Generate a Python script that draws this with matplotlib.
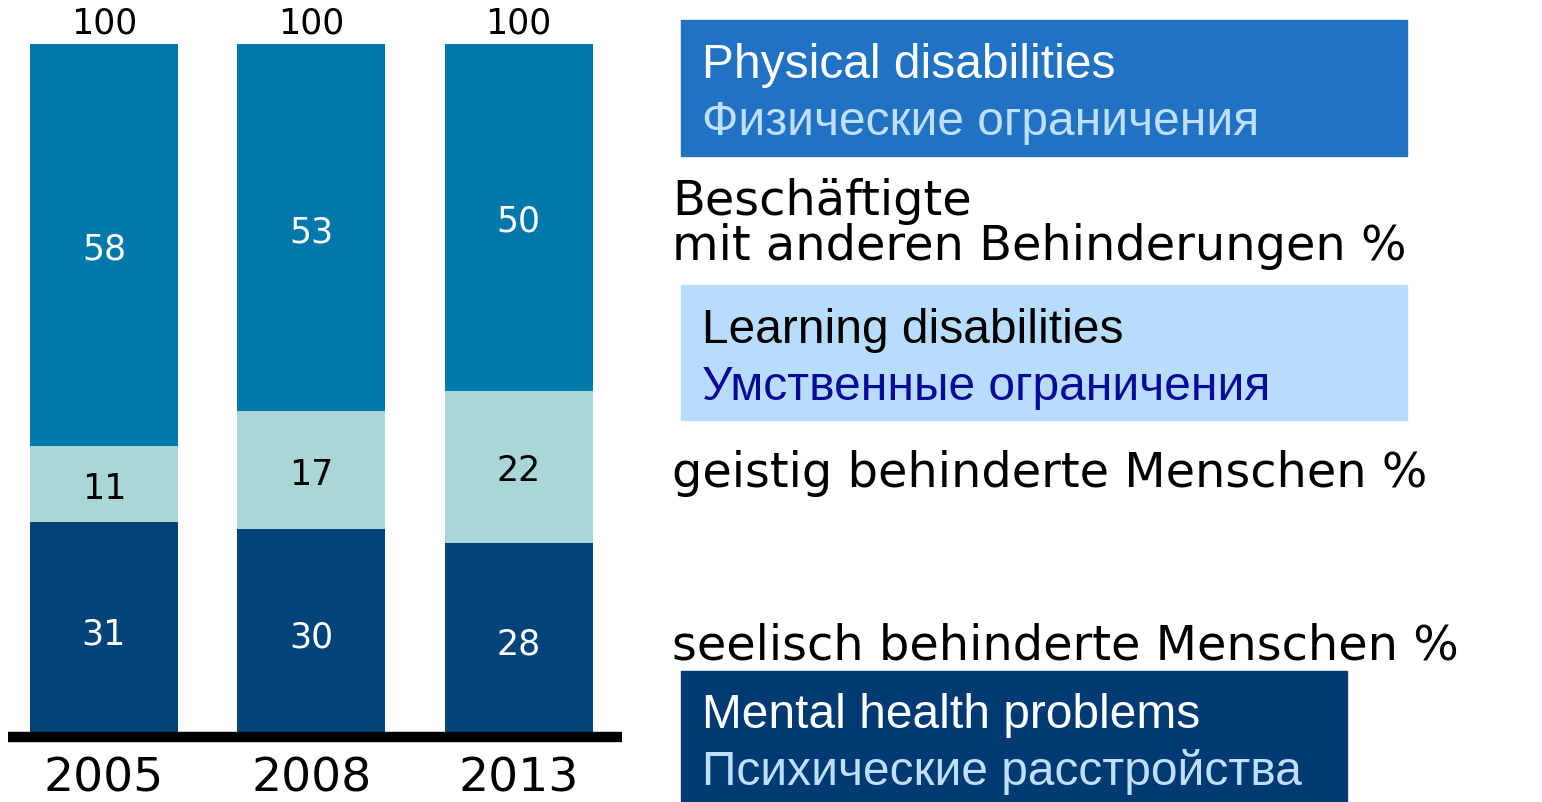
import matplotlib.pyplot as plt
from matplotlib.patches import Rectangle

# Daten: Anteile der Beschäftigten nach Art der Behinderung (%)
years = ["2005", "2008", "2013"]
seelisch = [31, 30, 28]     # seelisch behinderte Menschen
geistig = [11, 17, 22]      # geistig behinderte Menschen
andere = [58, 53, 50]       # mit anderen Behinderungen
totals = [100, 100, 100]

c_top = "#0078AA"
c_mid = "#A9D6D6"
c_bot = "#02447A"

W, H = 1542, 803
fig = plt.figure(figsize=(W / 100, H / 100), dpi=100)

# Balkendiagramm links
ax = fig.add_axes([8 / W, (H - 738) / H, 614 / W, 693 / H])
x = list(range(len(years)))
bw = 0.714
ax.bar(x, seelisch, bw, color=c_bot)
ax.bar(x, geistig, bw, bottom=seelisch, color=c_mid)
b3 = [s + g for s, g in zip(seelisch, geistig)]
ax.bar(x, andere, bw, bottom=b3, color=c_top)
ax.set_xlim(-0.463, 2.499)
ax.set_ylim(0, 100)
ax.axhline(0, color="black", lw=7.5, clip_on=False, solid_capstyle="butt")

for i in x:
    ax.text(i, seelisch[i] / 2 - 0.5, str(seelisch[i]), ha="center", va="center",
            color="white", fontsize=25)
    ax.text(i, seelisch[i] + geistig[i] / 2 - 0.5, str(geistig[i]), ha="center", va="center",
            color="black", fontsize=25)
    ax.text(i, b3[i] + andere[i] / 2 - 0.5, str(andere[i]), ha="center", va="center",
            color="white", fontsize=25)
    ax.text(i, totals[i] + 3.1, str(totals[i]), ha="center", va="center",
            color="black", fontsize=25)

ax.set_xticks(x)
ax.set_xticklabels(years, fontsize=34)
ax.tick_params(axis="x", length=0, pad=13)
ax.set_yticks([])
for sp in ax.spines.values():
    sp.set_visible(False)

# Beschriftung rechts (Pixelkoordinaten)
ov = fig.add_axes([0, 0, 1, 1])
ov.set_xlim(0, W)
ov.set_ylim(H, 0)
ov.axis("off")

ov.add_patch(Rectangle((681, 21), 726, 136, color="#2272C4"))
ov.add_patch(Rectangle((681, 286), 726, 135, color="#B8DCFB"))
ov.add_patch(Rectangle((681, 672), 666, 131, color="#003A72"))

box_font = "Liberation Sans"
bs = 34.5
ov.text(702, 78, "Physical disabilities", color="white", fontsize=bs, family=box_font, va="baseline")
ov.text(702, 135, "Физические ограничения", color="#BFDFFF", fontsize=bs, family=box_font, va="baseline")
ov.text(702, 343, "Learning disabilities", color="black", fontsize=bs, family=box_font, va="baseline")
ov.text(702, 400, "Умственные ограничения", color="#0A0A99", fontsize=bs, family=box_font, va="baseline")
ov.text(702, 728, "Mental health problems", color="white", fontsize=bs, family=box_font, va="baseline")
ov.text(702, 785, "Психические расстройства", color="#BFDFFF", fontsize=bs, family=box_font, va="baseline")

de_size = 34.5
ov.text(672, 215, "Beschäftigte", fontsize=de_size, va="baseline")
ov.text(672, 260, "mit anderen Behinderungen %", fontsize=de_size, va="baseline")
ov.text(672, 487, "geistig behinderte Menschen %", fontsize=de_size, va="baseline")
ov.text(672, 660, "seelisch behinderte Menschen %", fontsize=de_size, va="baseline")

fig.savefig("out.png", dpi=100)
